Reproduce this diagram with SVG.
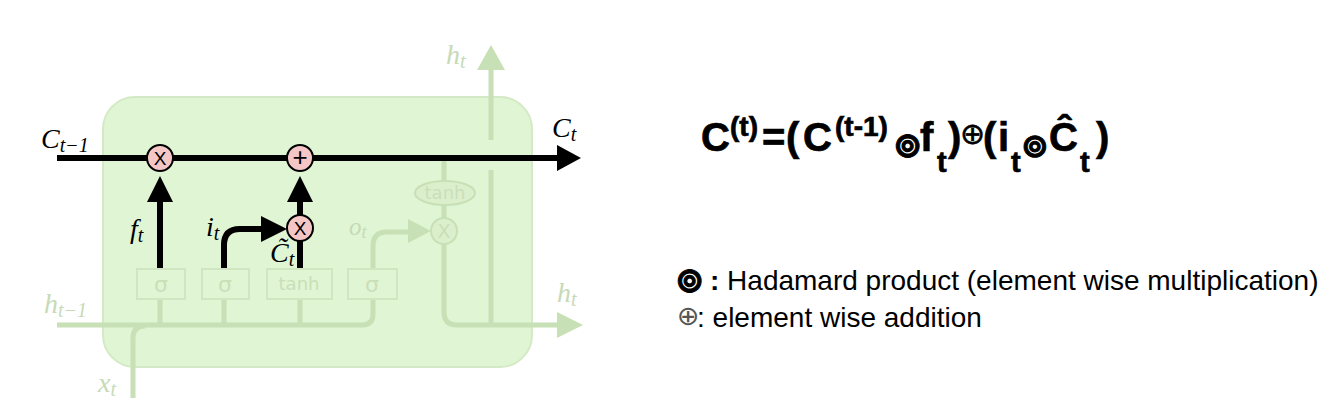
<svg xmlns="http://www.w3.org/2000/svg" width="1336" height="406" viewBox="0 0 1336 406">
<style>
.bg{fill:#e0f5d3;stroke:#d4eac6;stroke-width:2}
.fl{fill:none;stroke:#c8e0b6;stroke-width:5;stroke-linecap:butt}
.fa{fill:#c8e0b6}
.gate{fill:#e0f5d3;stroke:#cfe6c0;stroke-width:2}
.gt{font-family:"DejaVu Sans","Liberation Sans",sans-serif;fill:#c9dfb8;text-anchor:middle}
.bl{fill:none;stroke:#000;stroke-width:6}
.ba{fill:#000}
.op{fill:#f4c6c6;stroke:#000;stroke-width:2}
.opf{fill:#dcefcd;stroke:#c8e0b6;stroke-width:2}
.m{font-family:"Liberation Serif","DejaVu Serif",serif;font-style:italic;fill:#000}
.mf{font-family:"Liberation Serif","DejaVu Serif",serif;font-style:italic;fill:#c6dab7}
.eq{font-family:"Liberation Sans",Arial,sans-serif;font-weight:bold;fill:#000;stroke:#000;stroke-width:0.7}
.s{font-family:"DejaVu Sans",sans-serif}
.ox{font-family:"Liberation Sans","DejaVu Sans",sans-serif;fill:#000;text-anchor:middle}
.lg{font-family:"Liberation Sans",Arial,sans-serif;fill:#000;font-size:28px}
</style>
<g id="cell">
<rect class="bg" x="103" y="97" width="429" height="270" rx="32"/>
</g>
<g id="connectors">
<path class="fl" d="M57,325 H362 Q373,325 373,314 V299"/>
<path class="fl" d="M160,325 V299 M224,325 V299 M300,325 V299"/>
<path class="fl" d="M133,398 V338 Q133,326 145,326"/>
<path class="fl" d="M444,161 V181 M444,205 V218"/>
<path class="fl" d="M373,269 V246 Q373,232 387,232 H410"/>
<polygon class="fa" points="408,219 431,231 408,243"/>
<path class="fl" d="M444,244 V312 Q444,325 457,325 H559"/>
<polygon class="fa" points="557,312 583,325 557,338"/>
<path class="fl" d="M491,325 V170 M491,140 V68"/>
<polygon class="fa" points="477,70 491,45 505,70"/>
<path class="bl" d="M57,158 H560"/>
<polygon class="ba" points="557,145 581,158 557,171"/>
<path class="bl" d="M160,269 V200"/>
<polygon class="ba" points="147,202 160,176 173,202"/>
<path class="bl" d="M300,269 V241 M300,215 V200"/>
<polygon class="ba" points="287,202 300,176 313,202"/>
<path class="bl" d="M224,269 V245 Q224,229 240,229 H263"/>
<polygon class="ba" points="261,216 287,229 261,242"/>
</g>
<g id="gate-f"><rect class="gate" x="137" y="269" width="48" height="30"/><text class="gt" x="161" y="292" font-size="22">σ</text></g>
<g id="gate-i"><rect class="gate" x="202" y="269" width="47" height="30"/><text class="gt" x="225" y="292" font-size="22">σ</text></g>
<g id="gate-c"><rect class="gate" x="267" y="269" width="65" height="30"/><text class="gt" x="299" y="290" font-size="18">tanh</text></g>
<g id="gate-o"><rect class="gate" x="348" y="269" width="49" height="30"/><text class="gt" x="372" y="292" font-size="22">σ</text></g>
<g id="tanh-out"><ellipse class="opf" cx="445" cy="193" rx="30" ry="12"/><text class="gt" x="445" y="199" font-size="18">tanh</text></g>
<g id="mul-o"><circle class="opf" cx="444" cy="231" r="13"/><text class="gt" x="444" y="238" font-size="19" font-family="Liberation Sans">X</text></g>
<g id="mul-f"><circle class="op" cx="160" cy="158" r="13"/><text class="ox" x="160" y="165" font-size="19">X</text></g>
<g id="add-c"><circle class="op" cx="300" cy="158" r="13"/><text class="ox" x="300" y="166" font-size="26">+</text></g>
<g id="mul-i"><circle class="op" cx="300" cy="228" r="13"/><text class="ox" x="300" y="235" font-size="19">X</text></g>
<g id="labels">
<text class="m" x="41" y="148" font-size="28">C<tspan font-size="20" dy="4">t−1</tspan></text>
<text class="m" x="552" y="137" font-size="28">C<tspan font-size="20" dy="4">t</tspan></text>
<text class="m" x="130" y="238" font-size="28">f<tspan font-size="20" dy="4">t</tspan></text>
<text class="m" x="206" y="236" font-size="28">i<tspan font-size="20" dy="4">t</tspan></text>
<text class="m" x="270" y="262" font-size="28">C&#x303;<tspan font-size="20" dy="4">t</tspan></text>
<text class="mf" x="446" y="64" font-size="28">h<tspan font-size="20" dy="4">t</tspan></text>
<text class="mf" x="349" y="235" font-size="25">o<tspan font-size="18" dy="3">t</tspan></text>
<text class="mf" x="44" y="313" font-size="28">h<tspan font-size="20" dy="4">t−1</tspan></text>
<text class="mf" x="557" y="302" font-size="28">h<tspan font-size="20" dy="4">t</tspan></text>
<text class="mf" x="98" y="392" font-size="28">x<tspan font-size="20" dy="4">t</tspan></text>
</g>
<g id="equation">
<text class="eq" font-size="40"><tspan x="701" y="151">C</tspan><tspan x="730" y="136" font-size="28">(t)</tspan><tspan x="762" y="151">=</tspan><tspan x="786" y="151">(</tspan><tspan x="803" y="151">C</tspan><tspan x="835" y="136" font-size="28">(t-1)</tspan><tspan class="s" x="893" y="157" font-size="35" stroke-width="1">⊚</tspan><tspan x="920" y="151">f</tspan><tspan x="937" y="172" font-size="29">t</tspan><tspan x="948" y="151">)</tspan><tspan class="s" x="960" y="144" font-size="30" font-weight="normal" stroke-width="0.5">⊕</tspan><tspan x="983" y="151">(</tspan><tspan x="998" y="151">i</tspan><tspan x="1011" y="172" font-size="29">t</tspan><tspan class="s" x="1021" y="157" font-size="33" stroke-width="1">⊚</tspan><tspan x="1049" y="151">Ĉ</tspan><tspan x="1080" y="172" font-size="29">t</tspan><tspan x="1096" y="151">)</tspan></text>
</g>
<g id="legend">
<text class="lg" y="290"><tspan class="s" x="675" y="292" font-size="35" font-weight="bold" stroke="#000" stroke-width="1">⊚</tspan><tspan x="710" y="290" font-weight="bold">:</tspan> Hadamard product (element wise multiplication)</text>
<text class="lg" y="327"><tspan class="s" x="677" y="325" font-size="27" fill="#555">⊕</tspan><tspan x="697" y="327">: element wise addition</tspan></text>
</g>
</svg>
